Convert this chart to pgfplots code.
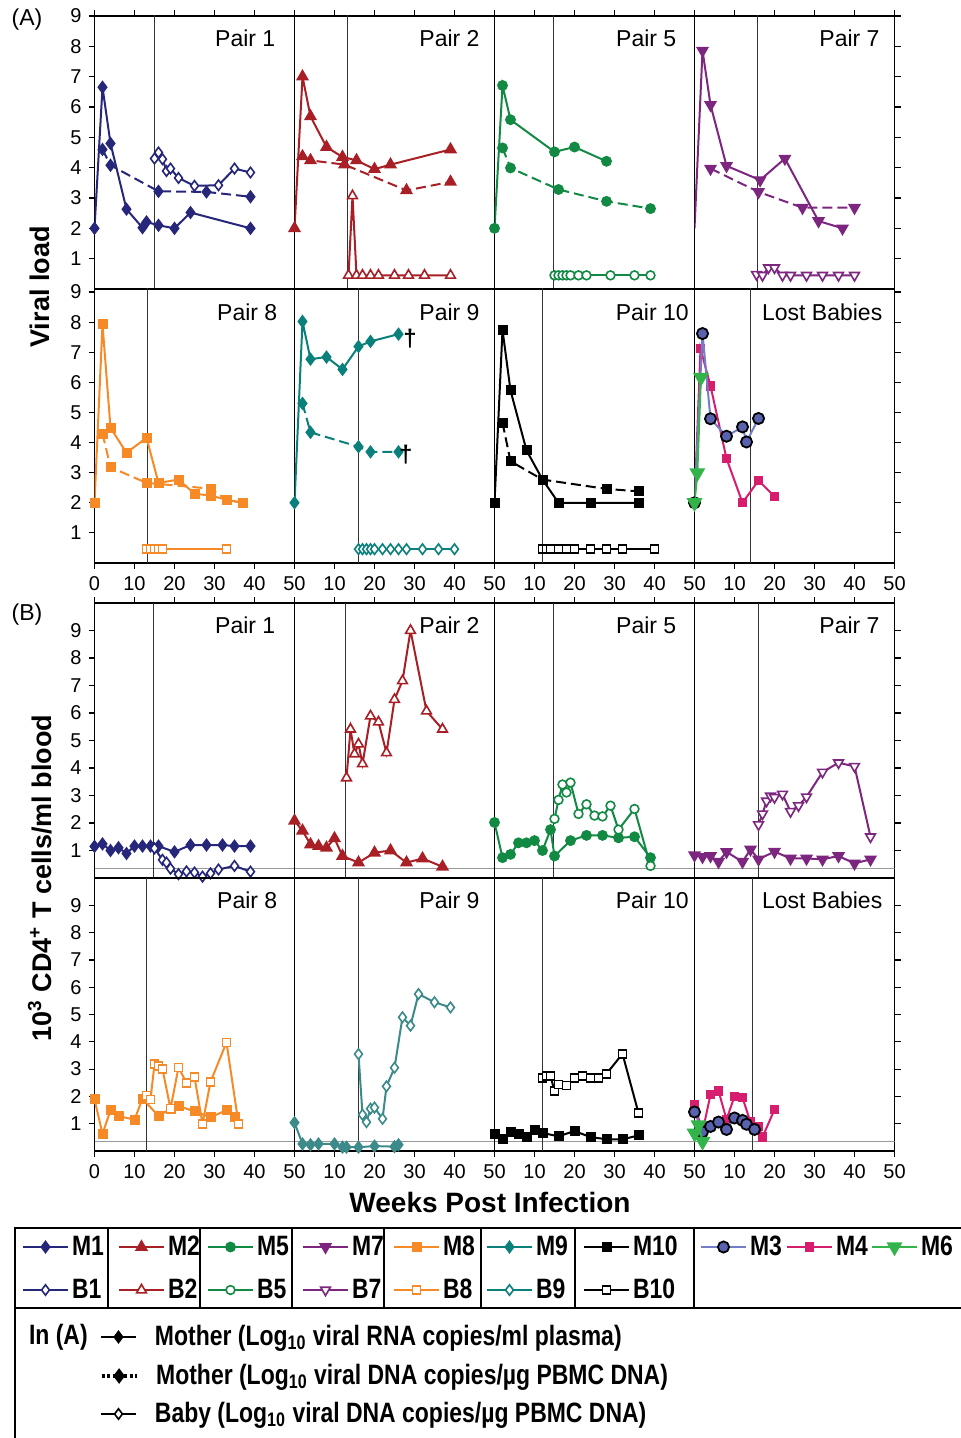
\documentclass[border=0pt]{standalone}
\usepackage{fontspec}
\setmainfont{Liberation Sans}
\newfontfamily\legfont[FakeStretch=0.82]{Liberation Sans}
\usepackage{pgfplots}
\pgfplotsset{compat=1.18}

\definecolor{cPa}{RGB}{38,38,122}
\definecolor{cPb}{RGB}{168,32,38}
\definecolor{cPe}{RGB}{18,138,68}
\definecolor{cPg}{RGB}{125,38,128}
\definecolor{cPh}{RGB}{246,138,38}
\definecolor{cPi}{RGB}{10,128,122}
\definecolor{cPib}{RGB}{60,138,138}
\definecolor{cMc}{RGB}{88,98,175}
\definecolor{cMcl}{RGB}{115,125,200}
\definecolor{cMd}{RGB}{215,30,110}
\definecolor{cMf}{RGB}{50,180,75}

\tikzset{ptitle/.style={font=\fontsize{11.5}{12}\selectfont, inner sep=0pt, anchor=north east}}

\pgfplotsset{
  base/.style={scale only axis, width=100pt, anchor=north west, xmin=0, xmax=50, ymin=0,
    clip mode=individual, axis line style={line width=0.9pt}, tick align=outside,
    major tick length=3pt, tick style={line width=0.6pt, black},
    tick label style={font=\fontsize{10}{10}\selectfont},
    /pgf/number format/assume math mode=true,
    xtick={0,10,...,50}, ytick={1,...,9}},
  rA1/.style={height=136.5pt, ymax=9, xtick pos=right, xticklabel={\relax}},
  rA2/.style={height=137pt, ymax=9.1, xtick pos=left},
  rB1/.style={height=137.5pt, ymax=10, xtick pos=right, xticklabel={\relax}},
  rB2/.style={height=136.5pt, ymax=10, xtick pos=left},
  c1/.style={ytick pos=left},
  cm/.style={ytick=\empty},
  c4/.style={ytick pos=right, yticklabel={\relax}},
  no0/.style={xticklabels={{},10,20,30,40,50}},
  birth/.style={black!80, line width=0.7pt, no marks, forget plot},
  thr/.style={gray!80, line width=0.6pt, no marks, forget plot},
  rna/.style={color=#1, line width=1pt, solid, every mark/.append style={solid, fill=#1}},
  dna/.style={color=#1, line width=1pt, dash pattern=on 5pt off 2.5pt, every mark/.append style={solid, fill=#1}},
  bby/.style={color=#1, line width=1pt, solid, every mark/.append style={solid, fill=white, line width=0.8pt}},
  mkD/.style={mark=diamond*, mark size=2.6pt},
  mkT/.style={mark=triangle*, mark size=2.8pt},
  mkV/.style={mark=triangle*, mark size=2.8pt, every mark/.append style={rotate=180}},
  mkO/.style={mark=*, mark size=2.2pt},
  mkS/.style={mark=square*, mark size=2pt},
  mthree/.style={color=cMcl, line width=1pt, solid, mark=*, mark size=2.8pt,
    every mark/.append style={solid, fill=cMc, draw=black, line width=0.9pt}},
  mfour/.style={color=cMd, line width=1pt, solid, mark=square*, mark size=1.8pt,
    every mark/.append style={solid, fill=cMd}},
  msix/.style={color=cMf, line width=1pt, solid, mark=triangle*, mark size=3.6pt,
    every mark/.append style={solid, fill=cMf, rotate=180}},
  legaxis/.style={hide axis, scale only axis, width=1pt, height=1pt, xmin=0, xmax=1, ymin=0, ymax=1,
    anchor=south west,
    legend style={at={(0,0)}, anchor=west, draw=none, fill=none, inner sep=0pt, outer sep=0pt,
      font=\legfont\bfseries\fontsize{14}{14}\selectfont, nodes={inner sep=1.5pt}},
    legend image code/.code={\draw[mark repeat=2,mark phase=2] plot coordinates {(0pt,0pt) (11.25pt,0pt) (22.5pt,0pt)};}},
  legaxisB/.style={legaxis,
    legend image code/.code={\draw[mark repeat=2,mark phase=2] plot coordinates {(0pt,0pt) (8.75pt,0pt) (17.5pt,0pt)}; \path (25pt,0pt);}},
}

\newcommand{\legitem}[4]{%
\begin{axis}[legaxis, at={(#1,#2)}]
\addlegendimage{#3}
\addlegendentry{#4}
\end{axis}}
\newcommand{\legitemB}[4]{%
\begin{axis}[legaxisB, at={(#1,#2)}]
\addlegendimage{#3}
\addlegendentry{#4}
\end{axis}}

\begin{document}
\begin{tikzpicture}
\path[use as bounding box] (0,0) rectangle (480pt,-719pt);

% ================= (A) viral load, first row
\begin{axis}[base, rA1, c1, at={(47.25pt,-8pt)}]
\addplot[birth] coordinates {(15,0) (15,10)};
\addplot[rna=cPa, mkD] coordinates {(0,2) (2,6.65) (4,4.8) (8,2.63) (12,2.02) (13,2.21) (16,2.1) (20,2.0) (24,2.52) (39,2.0)};
\addplot[dna=cPa, mkD] coordinates {(2,4.6) (4,4.08) (16,3.22) (28,3.2) (39,3.04)};
\addplot[bby=cPa, mkD] coordinates {(15,4.3) (16,4.5) (17,4.28) (18,3.89) (19,3.97) (21,3.66) (25,3.4) (31,3.42) (35,3.97) (39,3.84)};
\node[ptitle] at (rel axis cs:0.906,0.949) {Pair 1};
\end{axis}

\begin{axis}[base, rA1, cm, at={(147.25pt,-8pt)}]
\addplot[birth] coordinates {(13.3,0) (13.3,10)};
\addplot[rna=cPb, mkT] coordinates {(0,2) (2,7.0) (4,5.69) (8,4.68) (12,4.35) (15.5,4.24) (20,3.95) (24,4.1) (39,4.6)};
\addplot[dna=cPb, mkT] coordinates {(2,4.37) (4,4.24) (12.5,4.1) (28,3.25) (39,3.53)};
\addplot[bby=cPb, mkT] coordinates {(13.5,0.45) (14.5,3.07) (15.5,0.45) (17,0.45) (19,0.45) (21,0.45) (25,0.45) (28.5,0.45) (32.5,0.45) (39,0.45)};
\node[ptitle] at (rel axis cs:0.927,0.949) {Pair 2};
\end{axis}

\begin{axis}[base, rA1, cm, at={(247.25pt,-8pt)}]
\addplot[birth] coordinates {(14.8,0) (14.8,10)};
\addplot[rna=cPe, mkO] coordinates {(0,2) (2,6.71) (4,5.58) (15,4.52) (20,4.68) (28,4.21)};
\addplot[dna=cPe, mkO] coordinates {(2,4.65) (4,3.99) (16,3.28) (28,2.89) (39,2.65)};
\addplot[bby=cPe, mkO] coordinates {(15,0.45) (16,0.45) (17,0.45) (18,0.45) (19,0.45) (21,0.45) (23,0.45) (29,0.45) (35,0.45) (39,0.45)};
\node[ptitle] at (rel axis cs:0.911,0.949) {Pair 5};
\end{axis}

\begin{axis}[base, rA1, c4, at={(347.25pt,-8pt)}]
\addplot[birth] coordinates {(15.7,0) (15.7,10)};
\addplot[rna=cPg, mkV, mark indices={2,3,4,5,6,7,8}] coordinates {(0,2) (2,7.86) (4,6.07) (8,4.06) (16.4,3.59) (22.6,4.3) (31,2.24) (37,2.0)};
\addplot[dna=cPg, mkV] coordinates {(4,3.97) (16,3.2) (27,2.68) (40,2.68)};
\addplot[bby=cPg, mkV] coordinates {(15.5,0.48) (17,0.45) (18.5,0.7) (20,0.7) (22,0.45) (24,0.45) (28,0.45) (32,0.45) (36,0.45) (40,0.45)};
\node[ptitle] at (rel axis cs:0.927,0.949) {Pair 7};
\end{axis}

% ================= (A) viral load, second row
\begin{axis}[base, rA2, c1, at={(47.25pt,-144.5pt)}]
\addplot[birth] coordinates {(13.2,0) (13.2,10)};
\addplot[rna=cPh, mkS] coordinates {(0,2) (2,7.93) (4,4.49) (8,3.66) (13,4.16) (16,2.66) (21,2.77) (25,2.3) (29,2.24) (33,2.1) (37,2.0)};
\addplot[dna=cPh, mkS] coordinates {(2,4.3) (4,3.18) (13,2.66) (29,2.47) (33,2.1) (37,2.0)};
\addplot[bby=cPh, mkS] coordinates {(13,0.46) (14,0.46) (15,0.46) (16,0.46) (17,0.46) (33,0.46)};
\node[ptitle] at (rel axis cs:0.916,0.949) {Pair 8};
\end{axis}

\begin{axis}[base, rA2, cm, no0, at={(147.25pt,-144.5pt)}]
\addplot[birth] coordinates {(16,0) (16,10)};
\addplot[rna=cPi, mkD] coordinates {(0,2) (2,8.02) (4,6.77) (8,6.84) (12,6.43) (16,7.19) (19,7.36) (26,7.6)};
\addplot[dna=cPi, mkD] coordinates {(2,5.3) (4,4.34) (16,3.86) (19,3.69) (26,3.69)};
\addplot[bby=cPi, mkD] coordinates {(16,0.46) (17,0.46) (18,0.46) (19,0.46) (20,0.46) (22,0.46) (24,0.46) (26,0.46) (28,0.46) (32,0.46) (36,0.46) (40,0.46)};
\node[font=\bfseries\fontsize{12}{12}\selectfont] at (axis cs:28.9,7.45) {†};
\node[font=\bfseries\fontsize{12}{12}\selectfont] at (axis cs:27.8,3.6) {†};
\node[ptitle] at (rel axis cs:0.927,0.949) {Pair 9};
\end{axis}

\begin{axis}[base, rA2, cm, no0, at={(247.25pt,-144.5pt)}]
\addplot[birth] coordinates {(12,0) (12,10)};
\addplot[rna=black, mkS] coordinates {(0,2) (2,7.74) (4,5.73) (8,3.74) (12,2.77) (16,2) (24,2) (36,2)};
\addplot[dna=black, mkS] coordinates {(2,4.66) (4,3.38) (12,2.77) (28,2.46) (36,2.38)};
\addplot[bby=black, mkS] coordinates {(12,0.47) (13,0.47) (14,0.47) (16,0.47) (18,0.47) (20,0.47) (24,0.47) (28,0.47) (32,0.47) (40,0.47)};
\node[ptitle] at (rel axis cs:0.973,0.949) {Pair 10};
\end{axis}

\begin{axis}[base, rA2, c4, no0, at={(347.25pt,-144.5pt)}]
\addplot[birth] coordinates {(14,0) (14,10)};
\addplot[mfour] coordinates {(0,2) (1.5,7.12) (4,5.88) (8,3.47) (12,2.0) (16,2.74) (20,2.21)};
\addplot[mthree] coordinates {(0,2) (2,7.62) (4,4.79) (8,4.21) (12,4.52) (13,4.02) (16,4.8)};
\addplot[msix] coordinates {(0,2) (0.7,2.99) (1.6,6.16)};
\node[ptitle] at (rel axis cs:0.941,0.949) {Lost Babies};
\end{axis}

% ================= (B) CD4 counts, first row
\begin{axis}[base, rB1, c1, at={(47.25pt,-301.5pt)}]
\addplot[thr] coordinates {(0,0.35) (50,0.35)};
\addplot[birth] coordinates {(14.75,0) (14.75,11)};
\addplot[rna=cPa, mkD] coordinates {(0,1.15) (2,1.24) (4,1.0) (6,1.1) (8,0.89) (10,1.16) (12,1.16) (14,1.16) (16,1.16) (20,0.95) (24,1.2) (28,1.2) (32,1.2) (35,1.16) (39,1.16)};
\addplot[bby=cPa, mkD] coordinates {(15,1.08) (17,0.66) (18,0.56) (19,0.34) (21,0.14) (23,0.24) (25,0.2) (27,0.05) (29,0.17) (31,0.31) (35,0.44) (39,0.23)};
\node[ptitle] at (rel axis cs:0.906,0.95) {Pair 1};
\end{axis}

\begin{axis}[base, rB1, cm, at={(147.25pt,-301.5pt)}]
\addplot[thr] coordinates {(0,0.35) (50,0.35)};
\addplot[birth] coordinates {(12.75,0) (12.75,11)};
\addplot[rna=cPb, mkT] coordinates {(0,2.08) (2,1.72) (4,1.22) (6,1.16) (8,1.1) (10,1.44) (12,0.8) (16,0.56) (20,0.92) (24,1.0) (28,0.56) (32,0.71) (37,0.41)};
\addplot[bby=cPb, mkT] coordinates {(13,3.64) (14,5.41) (15,4.51) (16,4.87) (17,4.15) (19,5.89) (21,5.67) (23,4.55) (25,6.49) (27,7.17) (29,9.0) (33,6.07) (37,5.41)};
\node[ptitle] at (rel axis cs:0.927,0.95) {Pair 2};
\end{axis}

\begin{axis}[base, rB1, cm, at={(247.25pt,-301.5pt)}]
\addplot[thr] coordinates {(0,0.35) (50,0.35)};
\addplot[birth] coordinates {(14.8,0) (14.8,11)};
\addplot[rna=cPe, mkO] coordinates {(0,2.02) (2,0.74) (4,0.86) (6,1.28) (8,1.28) (10,1.36) (12,1.0) (14,1.76) (15,0.8) (19,1.36) (23,1.55) (27,1.55) (31,1.46) (35,1.5) (39,0.74)};
\addplot[bby=cPe, mkO] coordinates {(15,2.15) (16,2.84) (17,3.4) (18,3.11) (19,3.47) (21,2.33) (23,2.68) (25,2.27) (27,2.24) (29,2.63) (31,1.76) (35,2.51) (39,0.44)};
\node[ptitle] at (rel axis cs:0.911,0.95) {Pair 5};
\end{axis}

\begin{axis}[base, rB1, c4, at={(347.25pt,-301.5pt)}]
\addplot[thr] coordinates {(0,0.35) (50,0.35)};
\addplot[birth] coordinates {(16,0) (16,11)};
\addplot[rna=cPg, mkV] coordinates {(0,0.83) (2,0.77) (4,0.8) (6,0.59) (8,0.95) (12,0.59) (14,1.04) (16,0.68) (20,0.96) (24,0.71) (28,0.71) (32,0.68) (36,0.8) (40,0.53) (44,0.68)};
\addplot[bby=cPg, mkV] coordinates {(16,1.94) (17,2.33) (18,2.8) (19,2.98) (20,2.93) (22,3.05) (24,2.42) (26,2.63) (28,2.95) (32,3.85) (36,4.19) (40,4.06) (44,1.5)};
\node[ptitle] at (rel axis cs:0.927,0.95) {Pair 7};
\end{axis}

% ================= (B) CD4 counts, second row
\begin{axis}[base, rB2, c1, at={(47.25pt,-439pt)}]
\addplot[thr] coordinates {(0,0.35) (50,0.35)};
\addplot[birth] coordinates {(13,0) (13,11)};
\addplot[rna=cPh, mkS] coordinates {(0,1.89) (2,0.63) (4,1.49) (6,1.28) (10,1.15) (12,1.92) (16,1.28) (19,1.55) (21,1.65) (25,1.45) (29,1.24) (33,1.49) (35,1.24)};
\addplot[bby=cPh, mkS] coordinates {(13,2.04) (14,1.89) (15,3.18) (16,3.12) (17,3.0) (19,1.55) (21,3.06) (23,2.5) (25,2.71) (27,1.0) (29,2.53) (33,3.98) (36,1.0)};
\node[ptitle] at (rel axis cs:0.916,0.95) {Pair 8};
\end{axis}

\begin{axis}[base, rB2, cm, no0, at={(147.25pt,-439pt)}]
\addplot[thr] coordinates {(0,0.35) (50,0.35)};
\addplot[birth] coordinates {(16,0) (16,11)};
\addplot[rna=cPib, mkD] coordinates {(0,1.04) (2,0.26) (4,0.23) (6,0.26) (10,0.26) (12,0.14) (13,0.14) (16,0.14) (20,0.18) (25,0.16) (26,0.23)};
\addplot[bby=cPib, mkD] coordinates {(16,3.55) (17,1.33) (18,1.06) (19,1.55) (20,1.59) (22,1.18) (23,2.37) (25,3.05) (27,4.9) (29,4.59) (31,5.75) (35,5.45) (39,5.26)};
\node[ptitle] at (rel axis cs:0.927,0.95) {Pair 9};
\end{axis}

\begin{axis}[base, rB2, cm, no0, at={(247.25pt,-439pt)}]
\addplot[thr] coordinates {(0,0.35) (50,0.35)};
\addplot[birth] coordinates {(12,0) (12,11)};
\addplot[rna=black, mkS] coordinates {(0,0.63) (2,0.43) (4,0.7) (6,0.61) (8,0.51) (10,0.78) (12,0.66) (16,0.54) (20,0.73) (24,0.51) (28,0.43) (32,0.43) (36,0.57)};
\addplot[bby=black, mkS] coordinates {(12,2.68) (13,2.74) (14,2.74) (15,2.2) (16,2.44) (18,2.4) (20,2.67) (22,2.74) (24,2.68) (26,2.67) (28,2.83) (32,3.56) (36,1.39)};
\node[ptitle] at (rel axis cs:0.973,0.95) {Pair 10};
\end{axis}

\begin{axis}[base, rB2, c4, no0, at={(347.25pt,-439pt)}]
\addplot[thr] coordinates {(0,0.35) (50,0.35)};
\addplot[birth] coordinates {(14.5,0) (14.5,11)};
\addplot[mfour] coordinates {(0,1.71) (2,0.7) (4,2.07) (6,2.2) (8,1.16) (10,2.0) (12,1.95) (14,1.06) (16,0.91) (17,0.51) (20,1.52)};
\addplot[mthree] coordinates {(0,1.43) (2,0.7) (4,0.9) (6,1.06) (8,0.79) (10,1.21) (12,1.12) (13,0.98) (15,0.79)};
\addplot[msix] coordinates {(0,0.65) (1,0.95) (2,0.35)};
\node[ptitle] at (rel axis cs:0.941,0.95) {Lost Babies};
\end{axis}

% ================= labels
\node[font=\fontsize{11.5}{12}\selectfont] at (13.5pt,-10pt) {(A)};
\node[font=\fontsize{11.5}{12}\selectfont] at (13.5pt,-307.5pt) {(B)};
\node[rotate=90, font=\bfseries\fontsize{13.5}{14}\selectfont] at (20pt,-143.5pt) {Viral load};
\node[rotate=90, font=\bfseries\fontsize{13.5}{14}\selectfont] at (20pt,-439pt) {10\textsuperscript{3} CD4\textsuperscript{+} T cells/ml blood};
\node[font=\bfseries\fontsize{14}{14}\selectfont] at (245pt,-601pt) {Weeks Post Infection};

% ================= legend frame
\draw[line width=0.9pt] (7.5pt,-719pt) -- (7.5pt,-614pt) -- (490pt,-614pt);
\draw[line width=0.9pt] (7.5pt,-654pt) -- (490pt,-654pt);
\foreach \xx in {54,100,146,192,240.5,287.5,347} {\draw[line width=0.9pt] (\xx pt,-614pt) -- (\xx pt,-654pt);}

% ================= legend entries
\legitem{11pt}{-623.5pt}{rna=cPa, mkD}{M1}
\legitem{11pt}{-645pt}{bby=cPa, mkD}{B1}
\legitem{59pt}{-623.5pt}{rna=cPb, mkT}{M2}
\legitem{59pt}{-645pt}{bby=cPb, mkT}{B2}
\legitem{103.5pt}{-623.5pt}{rna=cPe, mkO}{M5}
\legitem{103.5pt}{-645pt}{bby=cPe, mkO}{B5}
\legitem{151pt}{-623.5pt}{rna=cPg, mkV}{M7}
\legitem{151pt}{-645pt}{bby=cPg, mkV}{B7}
\legitem{196.5pt}{-623.5pt}{rna=cPh, mkS}{M8}
\legitem{196.5pt}{-645pt}{bby=cPh, mkS}{B8}
\legitem{243pt}{-623.5pt}{rna=cPi, mkD}{M9}
\legitem{243pt}{-645pt}{bby=cPi, mkD}{B9}
\legitem{291.5pt}{-623.5pt}{rna=black, mkS}{M10}
\legitem{291.5pt}{-645pt}{bby=black, mkS}{B10}
\legitem{350pt}{-623.5pt}{mthree}{M3}
\legitem{393pt}{-623.5pt}{mfour}{M4}
\legitem{435.5pt}{-623.5pt}{msix}{M6}

\node[anchor=west, font=\legfont\bfseries\fontsize{14}{14}\selectfont] at (11pt,-668.5pt) {In (A)};
\legitemB{50pt}{-668.5pt}{rna=black, mkD}{Mother (Log\textsubscript{10} viral RNA copies/ml plasma)}
\legitemB{50pt}{-688pt}{black, line width=1.6pt, dash pattern=on 1.6pt off 1.2pt, mkD, every mark/.append style={solid, fill=black}}{Mother (Log\textsubscript{10} viral DNA copies/µg PBMC DNA)}
\legitemB{50pt}{-707pt}{bby=black, mkD}{Baby (Log\textsubscript{10} viral DNA copies/µg PBMC DNA)}
\end{tikzpicture}
\end{document}
